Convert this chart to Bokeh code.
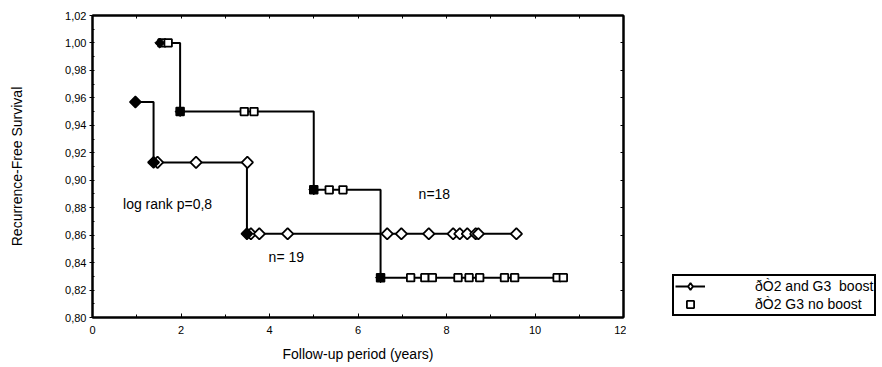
import math
from bokeh.plotting import figure
from bokeh.layouts import row
from bokeh.models import (LinearAxis, Range1d, Label, Legend, LegendItem,
                          SingleIntervalTicker, CustomJSTickFormatter)
from bokeh.embed import file_html
from bokeh.resources import INLINE

# ---------------- data ----------------
# pT2 and G3 + boost  (diamonds)
boost_times = [0.97, 1.38, 3.49]          # start + event times
boost_surv = [0.957, 0.913, 0.861]        # survival after each step
boost_end = 9.58
boost_cens_t = [1.47, 2.34, 3.50, 3.58, 3.77, 4.41, 6.66, 6.98, 7.60,
                8.15, 8.30, 8.47, 8.66, 8.72, 9.58]
boost_cens_s = [0.913, 0.913, 0.913, 0.861, 0.861, 0.861, 0.861, 0.861, 0.861,
                0.861, 0.861, 0.861, 0.861, 0.861, 0.861]

# pT2 G3 no boost  (squares)
noboost_times = [1.52, 1.98, 5.00, 6.51]
noboost_surv = [1.000, 0.950, 0.893, 0.829]
noboost_end = 10.64
noboost_cens_t = [1.57, 1.71, 3.43, 3.65, 5.35, 5.66, 7.19, 7.51, 7.68,
                  8.26, 8.51, 8.75, 9.31, 9.54, 10.50, 10.64]
noboost_cens_s = [1.000, 1.000, 0.950, 0.950, 0.893, 0.893, 0.829, 0.829, 0.829,
                  0.829, 0.829, 0.829, 0.829, 0.829, 0.829, 0.829]

series_labels = ["ðÒ2 and G3  boost", "ðÒ2 G3 no boost"]
annotations = [("log rank p=0,8", 0.69, 0.8827),
               ("n= 19", 3.98, 0.8438),
               ("n=18", 7.37, 0.890)]
x_title = "Follow-up period (years)"
y_title = "Recurrence-Free Survival"

FONT = "Liberation Sans"


def step_path(times, surv, end):
    xs, ys = [times[0]], [surv[0]]
    for i in range(1, len(times)):
        xs += [times[i], times[i]]
        ys += [surv[i - 1], surv[i]]
    xs.append(end)
    ys.append(surv[-1])
    return xs, ys


p = figure(width=626, height=367, x_range=Range1d(0, 12), y_range=Range1d(0.80, 1.02),
           output_backend="svg", toolbar_location=None,
           min_border_left=92, min_border_right=3, min_border_top=15, min_border_bottom=50)
p.xgrid.visible = False
p.ygrid.visible = False
p.outline_line_color = "black"
p.outline_line_width = 2
p.background_fill_color = "white"
p.border_fill_color = "white"

# axes
xa = p.xaxis[0]
xa.ticker = SingleIntervalTicker(interval=2, num_minor_ticks=2)
xa.major_tick_in = 4
xa.major_tick_out = 0
xa.minor_tick_in = 3
xa.minor_tick_out = 0
xa.major_label_standoff = 8
xa.axis_line_width = 2
xa.major_label_text_font = FONT
xa.major_label_text_font_size = "11px"
xa.major_label_text_color = "black"
xa.axis_label = x_title
xa.axis_label_standoff = 9
xa.axis_label_text_font = FONT
xa.axis_label_text_font_size = "14px"
xa.axis_label_text_font_style = "normal"
xa.axis_label_text_color = "black"

ya = p.yaxis[0]
ya.ticker = SingleIntervalTicker(interval=0.02, num_minor_ticks=2)
ya.formatter = CustomJSTickFormatter(code="return tick.toFixed(2).replace('.', ',');")
ya.major_tick_in = 0
ya.major_tick_out = 3
ya.minor_tick_in = 2
ya.minor_tick_out = 0
ya.major_label_standoff = 3
ya.axis_line_width = 2
ya.major_label_text_font = FONT
ya.major_label_text_font_size = "11px"
ya.major_label_text_color = "black"
ya.axis_label = y_title
ya.axis_label_standoff = 37
ya.axis_label_text_font = FONT
ya.axis_label_text_font_size = "14px"
ya.axis_label_text_font_style = "normal"
ya.axis_label_text_color = "black"

blank = CustomJSTickFormatter(code="return '';")
ra = LinearAxis(ticker=SingleIntervalTicker(interval=0.02, num_minor_ticks=0), formatter=blank,
                major_tick_in=3, major_tick_out=0, minor_tick_in=0, minor_tick_out=0,
                major_label_standoff=0, axis_line_width=2, major_label_text_font_size="1px")
ta = LinearAxis(ticker=SingleIntervalTicker(interval=1, num_minor_ticks=0), formatter=blank,
                major_tick_in=3, major_tick_out=0, minor_tick_in=0, minor_tick_out=0,
                major_label_standoff=0, axis_line_width=2, major_label_text_font_size="1px")
p.add_layout(ra, "right")
p.add_layout(ta, "above")

# curves
bx, by = step_path(boost_times, boost_surv, boost_end)
nx, ny = step_path(noboost_times, noboost_surv, noboost_end)
l1 = p.line(bx, by, line_color="black", line_width=2)
l2 = p.line(nx, ny, line_color="black", line_width=2)

c1 = p.scatter(boost_cens_t, boost_cens_s, marker="square", angle=math.pi / 4, size=8,
               fill_color="white", line_color="black", line_width=1.8)
c2 = p.scatter(noboost_cens_t, noboost_cens_s, marker="square", size=7.5,
               fill_color="white", line_color="black", line_width=1.8)

# events (filled)
p.scatter(noboost_times, noboost_surv, marker="square", angle=math.pi / 4, size=7,
          fill_color="black", line_color="black", line_width=1)
p.scatter(noboost_times[1:], noboost_surv[1:], marker="square", size=8,
          fill_color="black", line_color="black", line_width=1.5)
p.scatter(boost_times, boost_surv, marker="square", angle=math.pi / 4, size=8,
          fill_color="black", line_color="black", line_width=1.5)

for txt, x, y in annotations:
    p.add_layout(Label(x=x, y=y, text=txt, text_font=FONT, text_font_size="14px",
                       text_baseline="middle", text_color="black"))

# ---------------- legend panel ----------------
p2 = figure(width=256, height=367, x_range=Range1d(0, 1), y_range=Range1d(0, 1),
            output_backend="svg", toolbar_location=None,
            x_axis_location=None, y_axis_location=None,
            min_border_left=0, min_border_right=0, min_border_top=0, min_border_bottom=0)
p2.outline_line_color = None
p2.xgrid.visible = False
p2.ygrid.visible = False
p2.border_fill_color = "white"
p2.background_fill_color = "white"
nan = float("nan")
lg_line = p2.line(x=[nan, nan], y=[nan, nan], line_color="black", line_width=2)
lg_dia = p2.scatter(x=[nan], y=[nan], marker="diamond", fill_color="white",
                    line_color="black", line_width=1.8)
lg_sq = p2.scatter(x=[nan], y=[nan], marker="square", fill_color="white",
                   line_color="black", line_width=1.8)

legend = Legend(items=[LegendItem(label=series_labels[0], renderers=[lg_line, lg_dia]),
                       LegendItem(label=series_labels[1], renderers=[lg_sq])],
                location=(46, 1), border_line_color="black", border_line_width=2,
                border_line_alpha=1,
                padding=1, spacing=0, margin=0, label_height=18, glyph_height=18,
                glyph_width=30, label_standoff=50, label_text_font=FONT,
                label_text_font_size="14px", label_text_color="black",
                background_fill_color="white", background_fill_alpha=1)
p2.add_layout(legend)

layout = row(p, p2, spacing=0)
open("out.html", "w").write(file_html(layout, INLINE))
